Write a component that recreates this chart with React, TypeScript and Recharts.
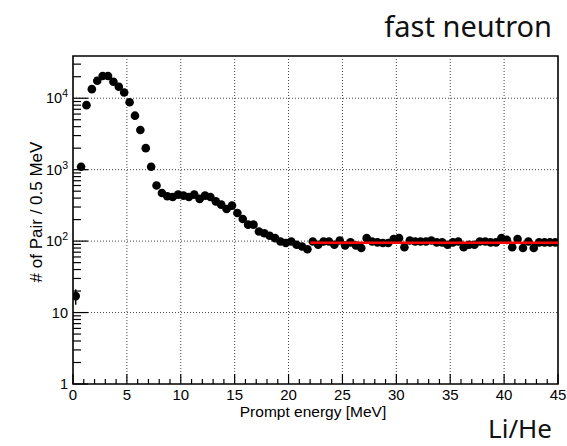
import React from 'react';
import { ComposedChart, Scatter, XAxis, YAxis, ReferenceLine, ReferenceArea, ErrorBar } from 'recharts';

// pairs per 0.5 MeV bin, bins start at 0 MeV
const binWidth = 0.5;
const pairCounts = [
  17, 1100, 8000, 13400, 17600, 20500, 20500, 17000, 14500, 12000,
  8800, 5700, 3600, 2000, 1100, 600, 472, 424, 415, 447,
  433, 415, 447, 390, 433, 415, 360, 324, 282, 314,
  248, 204, 170, 170, 136, 129, 119, 110, 99, 94,
  99, 89, 84, 77, 99, 89, 99, 99, 89, 102,
  87, 96, 87, 80, 110, 99, 96, 94, 94, 107,
  110, 82, 102, 99, 99, 99, 102, 96, 96, 89,
  96, 99, 82, 89, 89, 99, 99, 96, 96, 110,
  104, 82, 107, 80, 99, 80, 96, 96, 96, 96,
];

// flat fit (Li/He region)
const fitRange = [22, 45];
const fitLevel = 95;

const xMajorTicks = [0, 5, 10, 15, 20, 25, 30, 35, 40, 45];
const yDecades = [1, 10, 100, 1000, 10000];
const yMax = 39000;

const xTicks = Array.from({ length: 46 }, (_, i) => i);
const yTicks = yDecades.flatMap(d => [1, 2, 3, 4, 5, 6, 7, 8, 9].map(m => m * d)).filter(v => v <= yMax);

const points = pairCounts.map((c, i) => ({
  energy: i * binWidth + binWidth / 2,
  count: c,
  err: Math.sqrt(c),
}));
const fitPoints = fitRange.map(e => ({ energy: e, count: fitLevel }));

const axisFont = '"Liberation Sans", Arial, sans-serif';

// ticks drawn inward (ROOT style), labels outside
const XTick = ({ x, y, payload }: any) => {
  const major = xMajorTicks.includes(payload.value);
  return (
    <g>
      <line x1={x} x2={x} y1={y} y2={y - (major ? 10 : 5)} stroke="#000" strokeWidth={1.2} />
      {major && (
        <text x={x} y={y + 16} textAnchor="middle" fontSize={15} fontFamily={axisFont} fill="#000">
          {payload.value}
        </text>
      )}
    </g>
  );
};

const YTick = ({ x, y, payload }: any) => {
  const v = payload.value;
  const exp = Math.round(Math.log10(v));
  const major = yDecades.includes(v);
  return (
    <g>
      <line x1={x} x2={x + (major ? 15 : 8)} y1={y} y2={y} stroke="#000" strokeWidth={1.2} />
      {major && (
        <text x={x - 5} y={y + 5} textAnchor="end" fontSize={14.5} fontFamily={axisFont} fill="#000">
          {exp < 2 ? String(v) : '10'}
          {exp >= 2 && <tspan dy={-6} fontSize={10.5}>{exp}</tspan>}
        </text>
      )}
    </g>
  );
};

export default function App() {
  return (
    <div style={{ position: 'absolute', left: 0, top: 0, width: 567, height: 446, background: '#fff' }}>
      <ComposedChart width={567} height={446} margin={{ top: 56, right: 9, bottom: 32, left: 33 }}>
        <XAxis
          dataKey="energy"
          type="number"
          domain={[0, 45]}
          ticks={xTicks}
          interval={0}
          height={30}
          tickSize={0}
          tickMargin={0}
          axisLine={false}
          tickLine={false}
          tick={(p: any) => <XTick {...p} />}
          allowDataOverflow
        />
        <YAxis
          dataKey="count"
          type="number"
          scale="log"
          domain={[1, yMax]}
          ticks={yTicks}
          interval={0}
          width={40}
          tickSize={0}
          tickMargin={0}
          axisLine={false}
          tickLine={false}
          tick={(p: any) => <YTick {...p} />}
          allowDataOverflow
        />
        {xMajorTicks.slice(1, -1).map(v => (
          <ReferenceLine key={'gx' + v} x={v} stroke="#444" strokeWidth={1} strokeDasharray="1 2" />
        ))}
        {yDecades.slice(1).map(v => (
          <ReferenceLine key={'gy' + v} y={v} stroke="#444" strokeWidth={1} strokeDasharray="1 2" />
        ))}
        <ReferenceArea x1={0} x2={45} y1={1} y2={yMax} fill="none" stroke="#000" strokeWidth={1.6} />
        <Scatter
          data={points}
          isAnimationActive={false}
          shape={(p: any) => <circle cx={p.cx} cy={p.cy} r={4.3} fill="#000" />}
        >
          <ErrorBar dataKey="err" direction="y" width={0} stroke="#000" strokeWidth={1.5} />
        </Scatter>
        <Scatter
          data={fitPoints}
          isAnimationActive={false}
          line={{ stroke: '#ff0000', strokeWidth: 2.5 }}
          shape={() => <g />}
        />
      </ComposedChart>
      <svg width={567} height={446} style={{ position: 'absolute', left: 0, top: 0, pointerEvents: 'none' }}>
        <text x={552} y={37} textAnchor="end" fontSize={29} fontFamily='"Noto Sans", sans-serif' fill="#111">
          fast neutron
        </text>
        <text x={552} y={438} textAnchor="end" fontSize={26} fontFamily='"Noto Sans", sans-serif' fill="#111">
          Li/He
        </text>
        <text x={313} y={417} textAnchor="middle" fontSize={15.5} fontFamily={axisFont} fill="#000">
          Prompt energy [MeV]
        </text>
        <text x={42} y={212} textAnchor="middle" fontSize={17} fontFamily={axisFont} fill="#000" transform="rotate(-90 42 212)">
          # of Pair / 0.5 MeV
        </text>
      </svg>
    </div>
  );
}
